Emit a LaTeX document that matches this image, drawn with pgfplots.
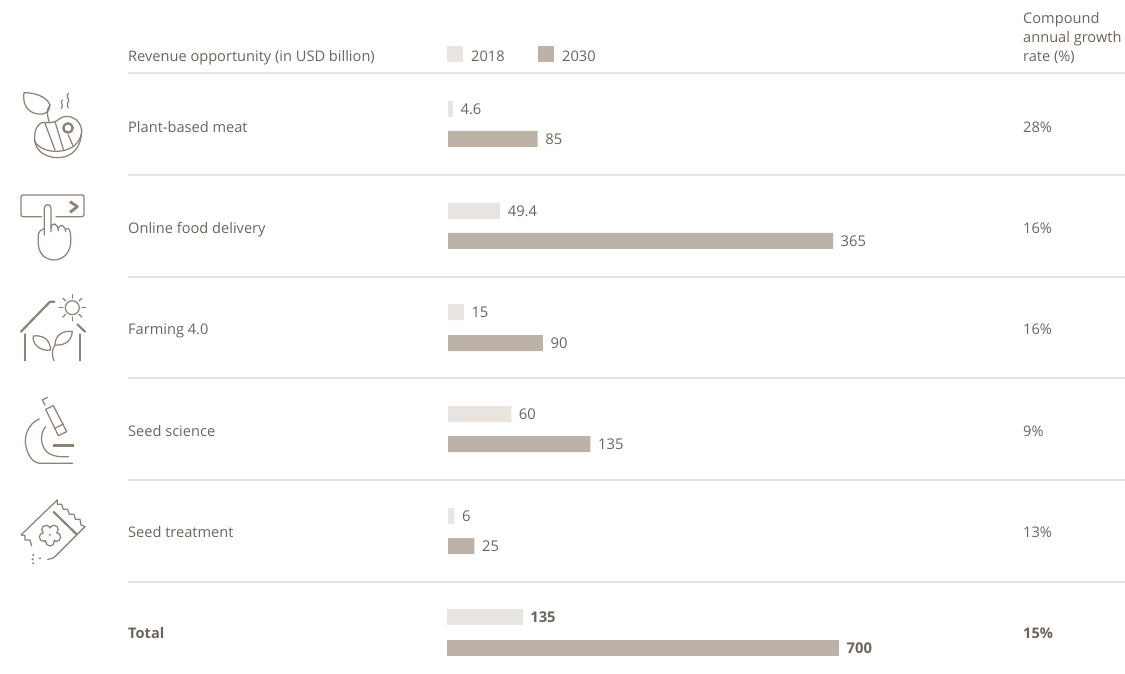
\documentclass[border=0pt]{standalone}
\usepackage{fontspec}
\setmainfont{Open Sans}
\usepackage{pgfplots}
\pgfplotsset{compat=1.18}
\definecolor{cA}{HTML}{E8E5E0}
\definecolor{cB}{HTML}{BCB2A8}
\definecolor{txt}{HTML}{6E635B}
\definecolor{ico}{HTML}{8F8377}
\definecolor{rule}{HTML}{E6E3DF}
\pgfplotsset{base/.style={
  at={(0,0)},anchor=south west,scale only axis,width=1125pt,height=674pt,
  axis lines=none,ymin=0,ymax=674,y dir=reverse,clip=false,
  point meta=x,
  nodes near coords={\pgfmathprintnumber[assume math mode=true]{\pgfplotspointmeta}},
  every node near coord/.append style={anchor=west,font=\fontsize{14.8}{16}\selectfont,text=txt,inner xsep=7.5pt,inner ysep=0pt,yshift=-0.3pt},
  }}
\begin{document}
\begin{tikzpicture}
\useasboundingbox (0,0) rectangle (1125pt,674pt);
\begin{axis}[base,xmin=-424.7,xmax=641.8]
\addplot[xbar,bar width=16pt,bar shift=0pt,fill=cA,draw=none] coordinates {(4.6,109) (49.4,211) (15,312) (60,414) (6,516)};
\addplot[xbar,bar width=16pt,bar shift=0pt,fill=cB,draw=none] coordinates {(85,139) (365,241) (90,343) (135,444) (25,546)};
\end{axis}
\begin{axis}[base,xmin=-798.2,xmax=1210.7,every node near coord/.append style={font=\fontsize{14.8}{16}\selectfont\bfseries}]
\addplot[xbar,bar width=16pt,bar shift=0pt,fill=cA,draw=none] coordinates {(135,617)};
\addplot[xbar,bar width=16pt,bar shift=0pt,fill=cB,draw=none] coordinates {(700,648)};
\end{axis}
\begin{scope}[shift={(0pt,674pt)},x=1pt,y=-1pt]
\foreach \y in {73,175,277,378,480,582} \draw[rule,line width=1.4pt] (128,\y)--(1125,\y);
\fill[cA] (447,46) rectangle (463,62);
\fill[cB] (538,46) rectangle (554,62);
\tikzset{t/.style={anchor=base west,inner sep=0pt,text=txt,font=\fontsize{14.6}{16}\selectfont}}
\node[t] at (128,62) {Revenue opportunity (in USD billion)};
\node[t] at (471,62) {2018};
\node[t] at (562,62) {2030};
\node[t] at (1023,24) {Compound};
\node[t] at (1023,43) {annual growth};
\node[t] at (1023,62) {rate (\%)};
\foreach \y/\a/\b in {133/Plant-based meat/28\%,234/Online food delivery/16\%,335/Farming 4.0/16\%,437/Seed science/9\%,538/Seed treatment/13\%}{
  \node[t] at (128,\y) {\a};
  \node[t] at (1023,\y) {\b};
}
\node[t,font=\fontsize{14.6}{16}\selectfont\bfseries] at (128,639) {Total};
\node[t,font=\fontsize{14.6}{16}\selectfont\bfseries] at (1023,639) {15\%};
\end{scope}
% icons, in zoom-crop coordinates
\tikzset{ic/.style={draw=ico,line width=1.25pt,line cap=round,line join=round},th/.style={ic,line width=2.2pt}}
\begin{scope}[shift={(0pt,594pt)},x=0.3333pt,y=-0.3333pt]
% leaf
\draw[ic] (72,38) .. controls (105,38) and (140,50) .. (150,75) .. controls (150,90) and (140,100) .. (128,102) .. controls (95,105) and (65,85) .. (72,38);
\draw[ic] (150,75) .. controls (138,90) and (142,105) .. (147,125);
% steam
\draw[ic] (187,60) .. controls (178,68) and (193,73) .. (184,86);
\draw[ic] (205,40) .. controls (194,50) and (214,60) .. (203,70) .. controls (198,76) and (205,78) .. (205,84);
% steak
\draw[ic] (130,127) .. controls (150,132) and (172,125) .. (180,115) .. controls (205,100) and (240,115) .. (245,150) .. controls (245,180) and (225,205) .. (190,212) .. controls (150,220) and (115,205) .. (105,185) .. controls (100,160) and (110,130) .. (130,127);
\draw[ic] (103,175) .. controls (105,205) and (125,232) .. (175,233) .. controls (215,232) and (245,205) .. (245,150);
\draw[ic] (135,130)--(165,210);
\draw[ic] (165,125)--(190,208);
\draw[ic] (205,165)--(220,200);
\draw[ic,line width=2.4pt] (204,144) circle (14);
% finger
\draw[ic,rounded corners=2pt] (125,410)--(63,410)--(63,345)--(252,345)--(252,410)--(168,410);
\draw[th,line width=2.8pt,line cap=butt] (210,365)--(232,380)--(210,397);
\draw[ic] (133,465)--(133,385) .. controls (133,370) and (153,370) .. (153,385)--(153,455);
\draw[ic] (153,445) .. controls (155,425) and (172,428) .. (175,452);
\draw[ic] (175,445) .. controls (180,430) and (195,435) .. (197,455);
\draw[ic] (197,448) .. controls (205,440) and (212,450) .. (212,470)--(212,490) .. controls (208,525) and (185,540) .. (160,540) .. controls (130,538) and (115,515) .. (115,490)--(115,465) .. controls (115,455) and (125,447) .. (133,447);
\end{scope}
\begin{scope}[shift={(0pt,404pt)},x=0.3333pt,y=-0.3333pt]
% house
\draw[th] (63,185)--(150,95)--(163,95);
\draw[th] (232,163)--(255,185);
\draw[ic] (75,192)--(75,272);
\draw[ic] (240,192)--(240,272);
\draw[ic] (217,113) circle (21);
\foreach \a in {0,45,...,315} \draw[ic] (217,113)++(\a:28)--++(\a:12);
\draw[ic] (100,198) .. controls (125,195) and (150,205) .. (152,240) .. controls (125,245) and (95,225) .. (100,198);
\draw[ic] (217,185) .. controls (190,180) and (165,195) .. (165,225) .. controls (190,228) and (215,215) .. (217,185);
\draw[ic] (165,225) .. controls (155,240) and (155,255) .. (162,272);
% microscope
\draw[ic] (143,382)--(127,390)--(135,405);
\draw[ic] (137,418)--(160,407)--(200,485)--(175,497)--cycle;
\draw[ic] (165,475)--(190,462);
\draw[ic] (118,447) .. controls (85,460) and (70,500) .. (78,530) .. controls (85,560) and (100,578) .. (118,580)--(218,580);
\draw[ic] (137,470) .. controls (120,490) and (120,525) .. (140,545) .. controls (155,560) and (185,562) .. (205,560);
\draw[th,line width=2.6pt,line cap=butt] (158,527)--(222,527);
% packet
\draw[ic] (172,690)--(63,795) -- (75,797)--(75,810)--(90,810)--(95,828);
\draw[ic] (172,690)--(172,703)--(185,703)--(190,718)--(203,718)--(208,733)--(222,733)--(226,748)--(240,748)--(243,765)--(255,770);
\draw[ic] (255,770)--(165,860) .. controls (160,866) and (150,867) .. (143,868);
\draw[th,line cap=butt] (160,725)--(232,795);
\foreach \a in {18,90,162,234,306} \draw[ic] (150,795)++(\a:20) circle (13);
\fill[white] (150,795) circle (20);
\fill[ico] (150,795) circle (3);
\foreach \p in {(100,855),(120,865),(100,880),(98,868)} \fill[ico] \p circle (3.5);
\end{scope}
\end{tikzpicture}
\end{document}
